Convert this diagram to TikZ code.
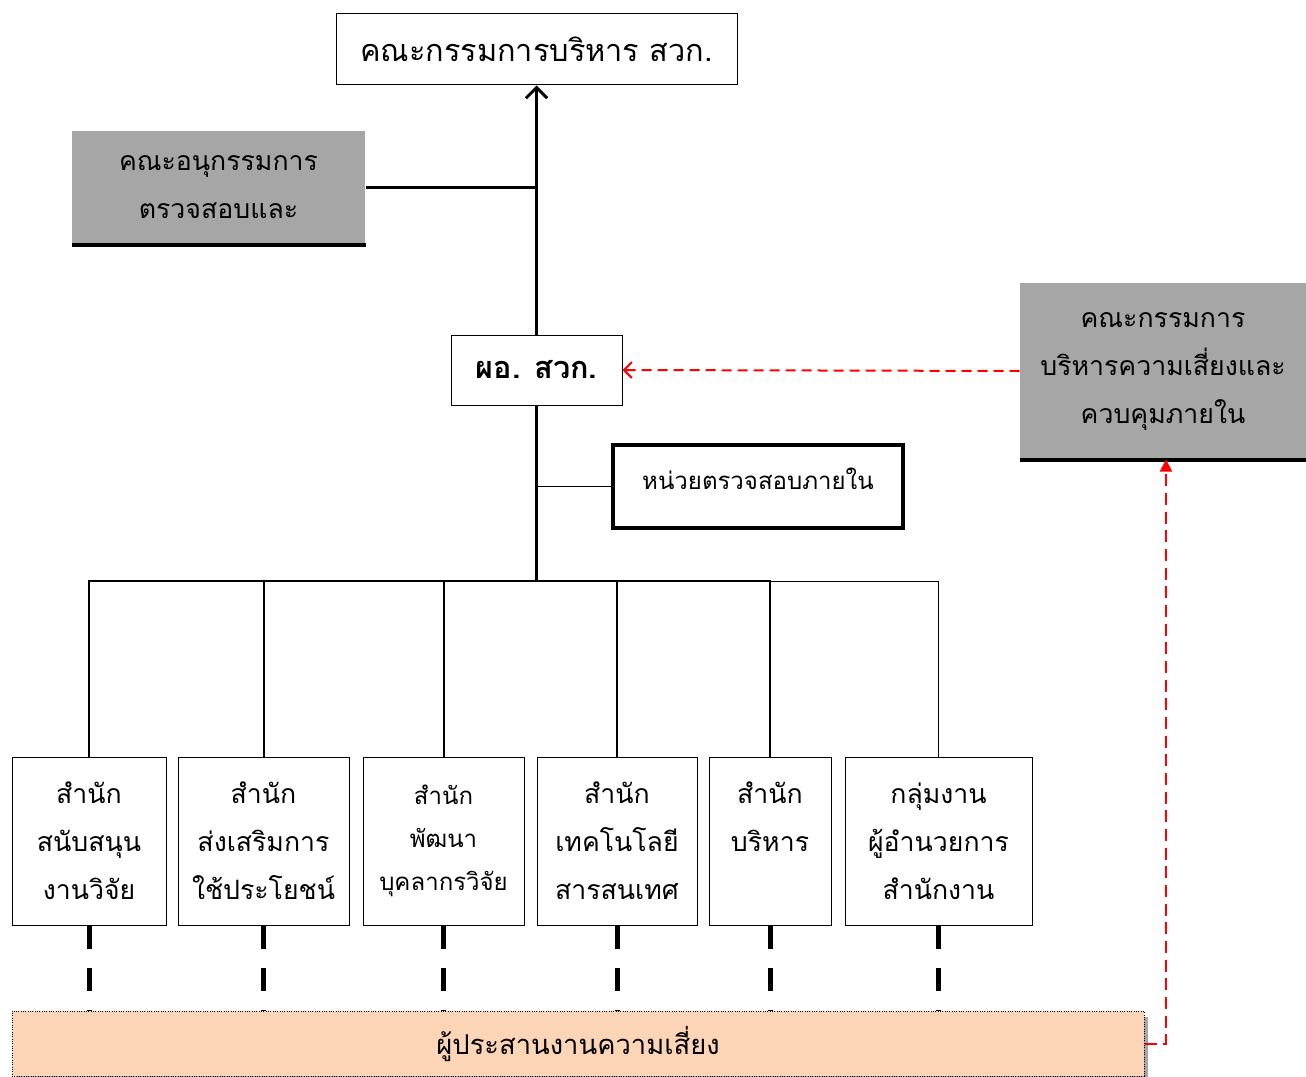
\documentclass[tikz,border=0pt]{standalone}
\usepackage{fontspec}
\usepackage{tikz}
\usetikzlibrary{positioning, arrows.meta, shadows}
\newfontfamily\thaifont[Script=Thai]{Loma}
\definecolor{boxgray}{RGB}{166,166,166}
\definecolor{peach}{RGB}{251,213,181}
\definecolor{riskred}{RGB}{255,0,0}
\tikzset{
  box/.style={
    draw=black, line width=0.75pt, fill=white, align=center,
    inner sep=0pt, font=\thaifont\fontsize{20pt}{36pt}\selectfont
  },
  greybox/.style={
    box, draw=none, fill=boxgray
  },
  deptbox/.style={
    box, minimum height=126pt
  },
  auditbox/.style={
    box, line width=3pt, font=\thaifont\fontsize{18pt}{32pt}\selectfont
  },
  riskbox/.style={
    box, fill=peach, densely dotted, font=\thaifont\fontsize{20.5pt}{36pt}\selectfont,
    drop shadow={shadow xshift=3pt, shadow yshift=-4.5pt, fill=gray!70, opacity=1}
  },
  trunk/.style={line width=2.25pt},
  branch/.style={line width=1.5pt},
  thinline/.style={line width=0.75pt},
  linkdash/.style={line width=3.75pt, dash pattern=on 17.25pt off 14.25pt},
  redlink/.style={riskred, line width=1.5pt, dash pattern=on 7.5pt off 4.5pt,
    -{Straight Barb[length=6pt, width=12pt]}},
  redup/.style={riskred, line width=1.5pt, dash pattern=on 9pt off 5pt,
    -{Triangle[length=9pt, width=9pt]}}
}

\begin{document}
\begin{tikzpicture}[x=0.75pt, y=-0.75pt]
  \useasboundingbox (0,0) rectangle (1306,1077);

  \node[box, minimum width=300.75pt, minimum height=53.25pt, font=\thaifont\fontsize{23pt}{36pt}\selectfont] (board) at (536.5,49.5) {คณะกรรมการบริหาร สวก.};
  \node[greybox, minimum width=219.75pt, minimum height=84.75pt] (subcom) at (218.5,187.5) {คณะอนุกรรมการ\\ตรวจสอบและ};
  \node[box, minimum width=128.25pt, minimum height=52.5pt, font=\thaifont\bfseries\fontsize{23pt}{36pt}\selectfont] (director) at (536.5,370) {ผอ. สวก.};
  \node[greybox, minimum width=214.5pt, minimum height=132pt] (riskcom) at (1163,371) {คณะกรรมการ\\บริหารความเสี่ยงและ\\ควบคุมภายใน};
  \node[auditbox, minimum width=217.5pt, minimum height=62.25pt] (iaudit) at (758,486.5) {\raisebox{6pt}[\height][\depth]{หน่วยตรวจสอบภายใน}};

  \node[deptbox, minimum width=115.5pt] (d1) at (89,841) {สำนัก\\สนับสนุน\\งานวิจัย};
  \node[deptbox, minimum width=128.25pt] (d2) at (263.5,841) {สำนัก\\ส่งเสริมการ\\ใช้ประโยชน์};
  \node[deptbox, minimum width=120.75pt, font=\thaifont\fontsize{18pt}{32.25pt}\selectfont] (d3) at (443.5,841) {สำนัก\\พัฒนา\\บุคลากรวิจัย};
  \node[deptbox, minimum width=120pt] (d4) at (617,841) {สำนัก\\เทคโนโลยี\\สารสนเทศ};
  \node[deptbox, minimum width=91.5pt] (d5) at (770,841) {สำนัก\\บริหาร\\\mbox{}};
  \node[deptbox, minimum width=140.25pt] (d6) at (938.5,841) {กลุ่มงาน\\ผู้อำนวยการ\\สำนักงาน};

  \node[riskbox, minimum width=849pt, minimum height=48.75pt] (risk) at (578,1043.5) {ผู้ประสานงานความเสี่ยง};

  \coordinate (bus) at (536.5,581);

  \draw[line width=3pt] (subcom.south west) -- (subcom.south east);
  \draw[line width=3pt] (riskcom.south west) -- (riskcom.south east);

  \draw[trunk, -{Straight Barb[length=8pt, width=16pt]}] (director.north) -- (board.south);
  \draw[trunk] (subcom.east) -- (subcom.east -| director.north);
  \draw[trunk] (director.south) -- (bus);
  \draw[thinline] (iaudit.west) -- (iaudit.west -| director.south);
  \foreach \d in {d1,d2,d3,d4,d5}
    \draw[branch] (bus) -| (\d.north);
  \draw[thinline] (d5.north |- bus) -| (d6.north);

  \foreach \d in {d1,d2,d3,d4,d5,d6}
    \draw[linkdash] (\d.south) -- (\d.south |- risk.north);

  \draw[redlink] (riskcom.west) -- (director.east);
  \draw[redup] (risk.east) -| ([xshift=2.25pt]riskcom.south);
\end{tikzpicture}
\end{document}
